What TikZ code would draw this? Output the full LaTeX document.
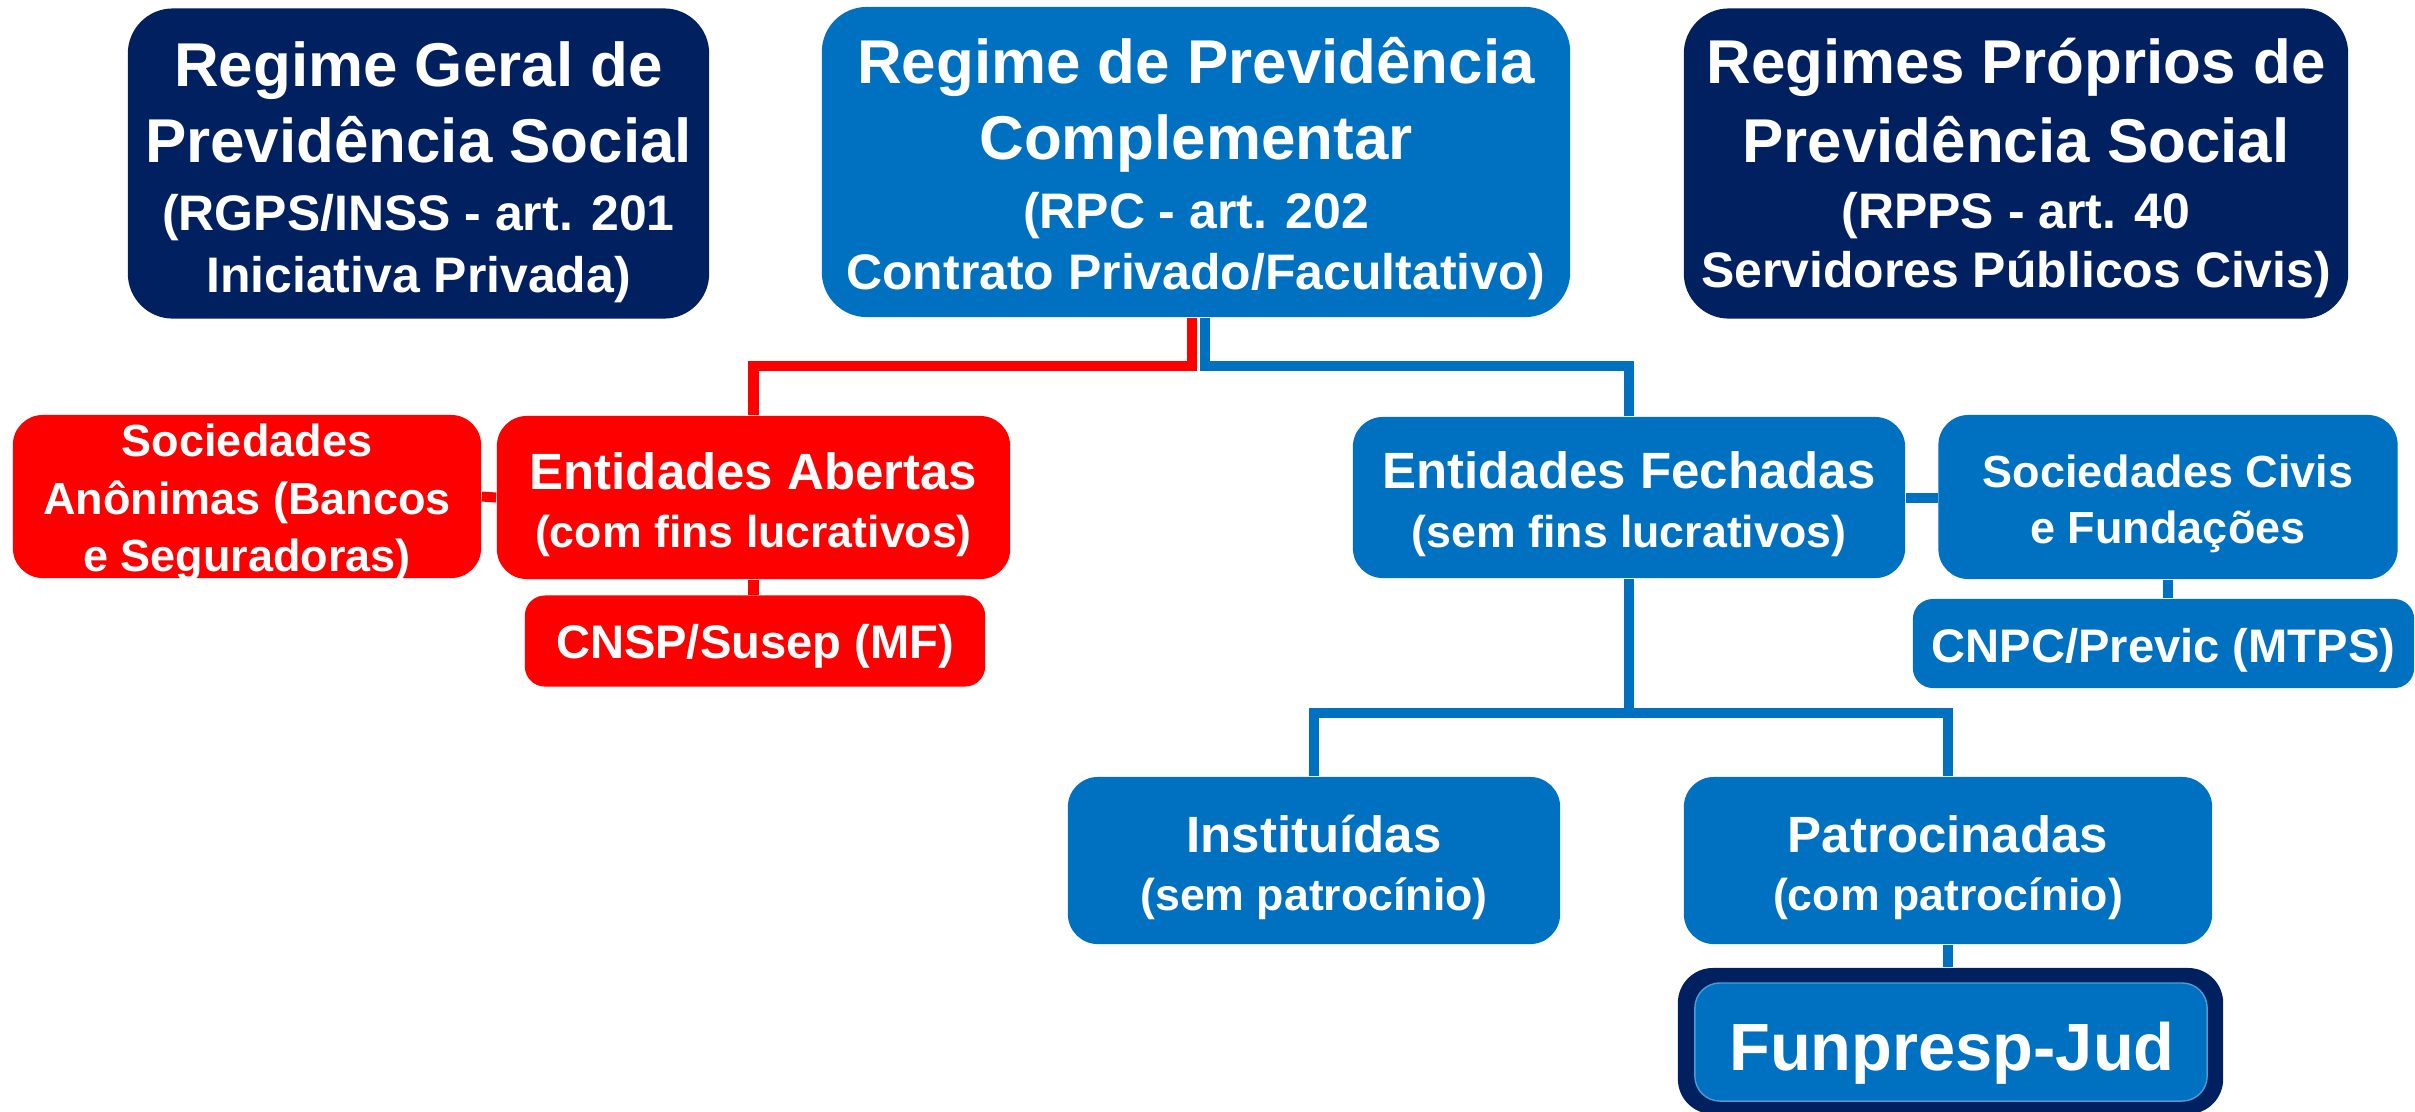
\documentclass[tikz,border=0pt]{standalone}
\usepackage{fontspec}
\setmainfont{Liberation Sans}
\definecolor{navy}{RGB}{0,32,96}
\definecolor{pblue}{RGB}{0,112,192}
\definecolor{pred}{RGB}{255,0,0}
\newcommand\fbig{\fontsize{17.6}{21}\selectfont\bfseries}
\newcommand\fmed{\fontsize{14.2}{17}\selectfont\bfseries}
\newcommand\fra{\fontsize{14.5}{17}\selectfont\bfseries}
\newcommand\frb{\fontsize{12.7}{15}\selectfont\bfseries}
\newcommand\fsoc{\fontsize{12.8}{15}\selectfont\bfseries}
\newcommand\fcn{\fontsize{13.4}{16}\selectfont\bfseries}
\newcommand\ffun{\fontsize{19.0}{23}\selectfont\bfseries}
\tikzset{
  box/.style={rectangle, inner sep=0pt, draw=none, rounded corners=0.3cm},
  topbox/.style={box, rounded corners=0.45cm, minimum height=3.10cm},
  rowbox/.style={box, minimum height=1.63cm},
  smallbox/.style={box, rounded corners=0.2cm, minimum height=0.91cm},
  tx/.style={anchor=base, inner sep=0pt, text=white},
  rl/.style={draw=pred, line width=2.85pt},
  bl/.style={draw=pblue, line width=2.85pt},
}
\begin{document}
\begin{tikzpicture}[x=0.01cm,y=-0.01cm]
\useasboundingbox[fill=white] (0,0) rectangle (2415,1111);

% top boxes
\node[topbox, fill=navy, minimum width=5.81cm] (rgps) at (418.5,163.5) {};
\node[topbox, fill=pblue, minimum width=7.48cm] (rpc) at (1196,162) {};
\node[topbox, fill=navy, minimum width=6.64cm] (rpps) at (2016,163.5) {};

\node[tx, font=\fbig] (rgps1) at (418.5,86) {Regime Geral de};
\node[tx, font=\fbig] (rgps2) at (418.5,162) {Previdência Social};
\node[tx, font=\fmed] (rgps3) at (418.5,230) {(RGPS/INSS - art. 201};
\node[tx, font=\fmed] (rgps4) at (418.5,292) {Iniciativa Privada)};

\node[tx, font=\fbig] (rpc1) at (1196,83) {Regime de Previdência};
\node[tx, font=\fbig] (rpc2) at (1196,159) {Complementar};
\node[tx, font=\fmed] (rpc3) at (1196,228) {(RPC - art. 202};
\node[tx, font=\fmed] (rpc4) at (1196,289) {Contrato Privado/Facultativo)};

\node[tx, font=\fbig] (rpps1) at (2016,83) {Regimes Próprios de};
\node[tx, font=\fbig] (rpps2) at (2016,162) {Previdência Social};
\node[tx, font=\fmed] (rpps3) at (2016,228) {(RPPS - art. 40};
\node[tx, font=\fmed] (rpps4) at (2016,287) {Servidores Públicos Civis)};

% second row
\node[rowbox, fill=pred, minimum width=4.68cm] (socanon) at (247,496.5) {};
\node[rowbox, fill=pred, minimum width=5.13cm] (abertas) at (753.5,497.5) {};
\node[smallbox, fill=pred, minimum width=4.60cm] (cnsp) at (755,641) {};
\node[rowbox, fill=pblue, minimum width=5.52cm, minimum height=1.61cm] (fechadas) at (1629,497.5) {};
\node[rowbox, fill=pblue, minimum width=4.59cm, minimum height=1.64cm] (soccivis) at (2168,497) {};
\node[smallbox, fill=pblue, minimum width=5.01cm, minimum height=0.89cm] (cnpc) at (2163.5,643.5) {};

\node[tx, font=\fsoc] (soc1) at (247,456) {Sociedades};
\node[tx, font=\fsoc] (soc2) at (247,514) {Anônimas (Bancos};
\node[tx, font=\fsoc] (soc3) at (247,571) {e Seguradoras)};

\node[tx, font=\fra] (ab1) at (753.5,489) {Entidades Abertas};
\node[tx, font=\frb] (ab2) at (753.5,547) {(com fins lucrativos)};

\node[tx, font=\fcn] (cnsp1) at (755,658) {CNSP/Susep (MF)};

\node[tx, font=\fra] (fe1) at (1629,488) {Entidades Fechadas};
\node[tx, font=\frb] (fe2) at (1629,547) {(sem fins lucrativos)};

\node[tx, font=\fsoc] (sc1) at (2168,487) {Sociedades Civis};
\node[tx, font=\fsoc] (sc2) at (2168,543) {e Fundações};

\node[tx, font=\fcn] (cnpc1) at (2163.5,662) {CNPC/Previc (MTPS)};

% third row
\node[rowbox, fill=pblue, minimum width=4.92cm, minimum height=1.67cm] (inst) at (1314,860.5) {};
\node[rowbox, fill=pblue, minimum width=5.28cm, minimum height=1.67cm] (patr) at (1948,860.5) {};
\node[tx, font=\fra] (in1) at (1314,852) {Instituídas};
\node[tx, font=\frb] (in2) at (1314,910) {(sem patrocínio)};
\node[tx, font=\fra] (pa1) at (1948,852) {Patrocinadas};
\node[tx, font=\frb] (pa2) at (1948,910) {(com patrocínio)};

% Funpresp
\node[box, fill=navy, rounded corners=0.35cm, minimum width=5.45cm, minimum height=1.46cm] (fun) at (1950.5,1041) {};
\node[box, fill=pblue, draw=pblue!70!white, line width=0.4pt, rounded corners=0.25cm, minimum width=5.12cm, minimum height=1.18cm] (funin) at (1951,1042) {};
\node[tx, font=\ffun] (fun1) at (1952,1070) {Funpresp-Jud};

% connectors
\coordinate (junR) at (1192,366);
\coordinate (junB) at (1205,366);
\coordinate (bus) at (1629,713);
\draw[rl] (rpc.south -| junR) -- (junR) -| (abertas.north);
\draw[bl] (rpc.south -| junB) -- (junB) -| (fechadas.north);
\draw[rl] (socanon.east) -- (abertas.west);
\draw[rl] (abertas.south) -- (abertas.south |- cnsp.north);
\draw[bl] (fechadas.east) -- (soccivis.west |- fechadas.east);
\draw[bl] (soccivis.south) -- (soccivis.south |- cnpc.north);
\draw[bl] (fechadas.south) -- (bus);
\draw[bl] (inst.north) |- (bus) -| (patr.north);
\draw[bl] (patr.south) -- (patr.south |- fun.north);
\end{tikzpicture}
\end{document}
